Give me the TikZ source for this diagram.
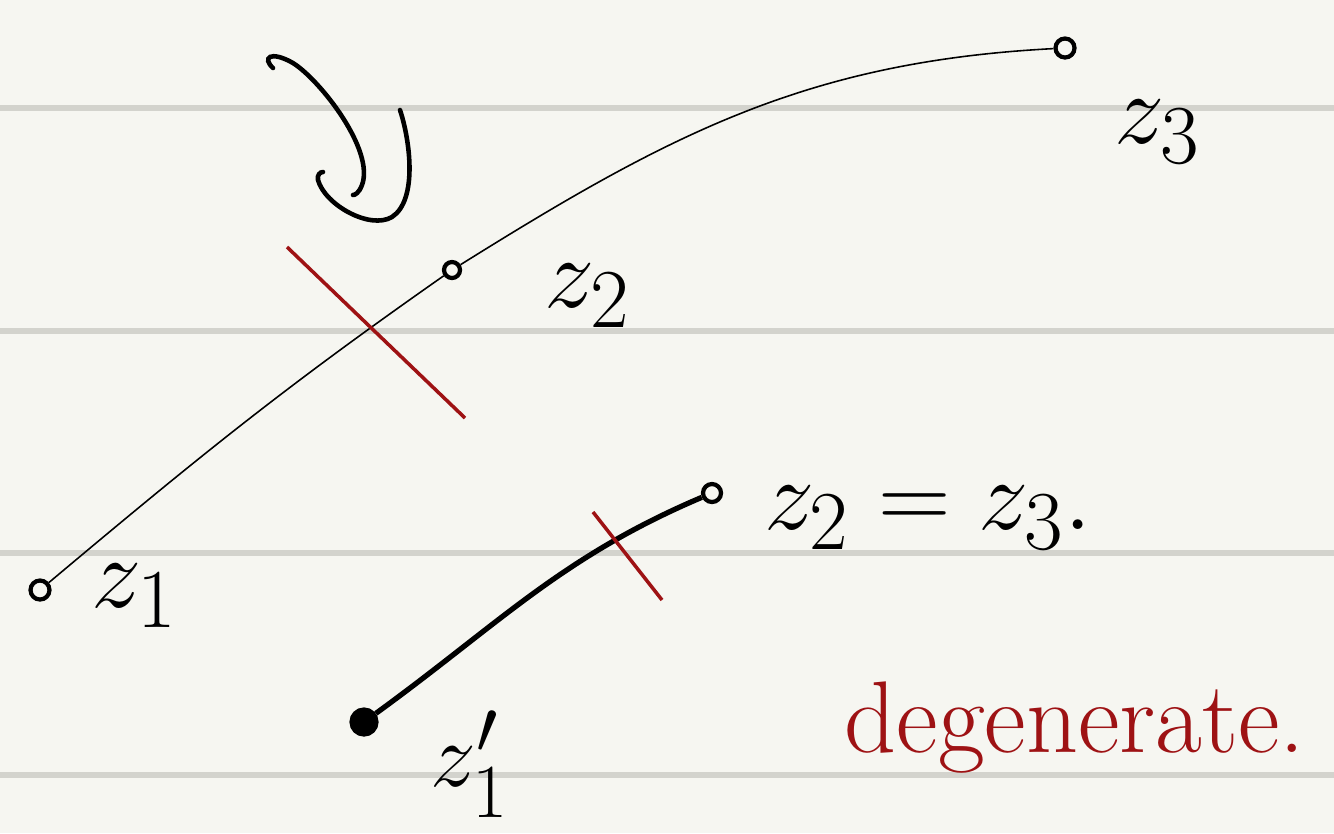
\documentclass[tikz,border=0pt]{standalone}
\usepackage{amsmath}
\usepackage{tikz}
\definecolor{paper}{RGB}{246,246,241}
\definecolor{rule}{RGB}{211,211,205}
\definecolor{inkred}{RGB}{158,18,20}
\begin{document}
\begin{tikzpicture}[x=0.02cm,y=-0.02cm]
			\tikzstyle{pt}=[circle, draw, line width=2.4pt, minimum size=0.38cm, inner sep=0pt]
			\tikzstyle{lbl}=[font=\Huge, scale=2.3, inner sep=1pt]
			\tikzstyle{ruleline}=[rule, line width=3pt]
			\tikzstyle{cut}=[inkred, line width=2pt]
			
			% paper and ruled lines
			\fill[paper] (0,0) rectangle (1334,833);
			\useasboundingbox (0,0) rectangle (1334,833);
			\foreach \y in {108,331,553,775}
				\draw[ruleline] (0,\y) -- (1334,\y);
			
			% points
			\node[pt] (pz1) at (40,590) {};
			\node[pt, minimum size=0.32cm] (pz2) at (452,270) {};
			\node[pt] (pz3) at (1065,48) {};
			\node[pt, minimum size=0.36cm] (pw3) at (712,493) {};
			\node[pt, fill=black, minimum size=0.5cm] (pw1) at (364,722) {};
			
			% labels
			\node[lbl] (lz1) at (135,596) {$z_1$};
			\node[lbl] (lz2) at (588,296) {$z_2$};
			\node[lbl] (lz3) at (1158,132) {$z_3$};
			\node[lbl] (lz23) at (928,518) {$z_2=z_3.$};
			\node[font=\Huge, scale=2.1, inner sep=0pt] (lw1) at (470,764) {$z_1'$};
			\node[inkred, font=\fontsize{58}{60}\selectfont] (ldeg) at (1075,728) {degenerate.};
			
			% curves
			\draw[line width=0.9pt] (pz1) to[out=40,in=215] (pz2) to[out=32,in=183] (pz3);
			\draw[line width=3pt] (pw1) to[out=36,in=203] (pw3);
			
			% cuts
			\coordinate (c1a) at (287,247);
			\coordinate (c1b) at (465,418);
			\coordinate (c2a) at (593,512);
			\coordinate (c2b) at (662,600);
			\draw[cut] (c1a) -- (c1b);
			\draw[cut] (c2a) -- (c2b);
			
			% turning sign
			\draw[line width=2.6pt, line cap=round] (273,68) .. controls (262,58) and (270,50) .. (293,63)
				.. controls (320,80) and (375,150) .. (362,185) .. controls (359,193) and (355,195) .. (353,195);
			\draw[line width=2.6pt, line cap=round] (400,110) .. controls (410,140) and (418,200) .. (392,217)
				.. controls (370,230) and (325,205) .. (318,180) .. controls (317,175) and (320,172) .. (323,172);
\end{tikzpicture}
\end{document}
